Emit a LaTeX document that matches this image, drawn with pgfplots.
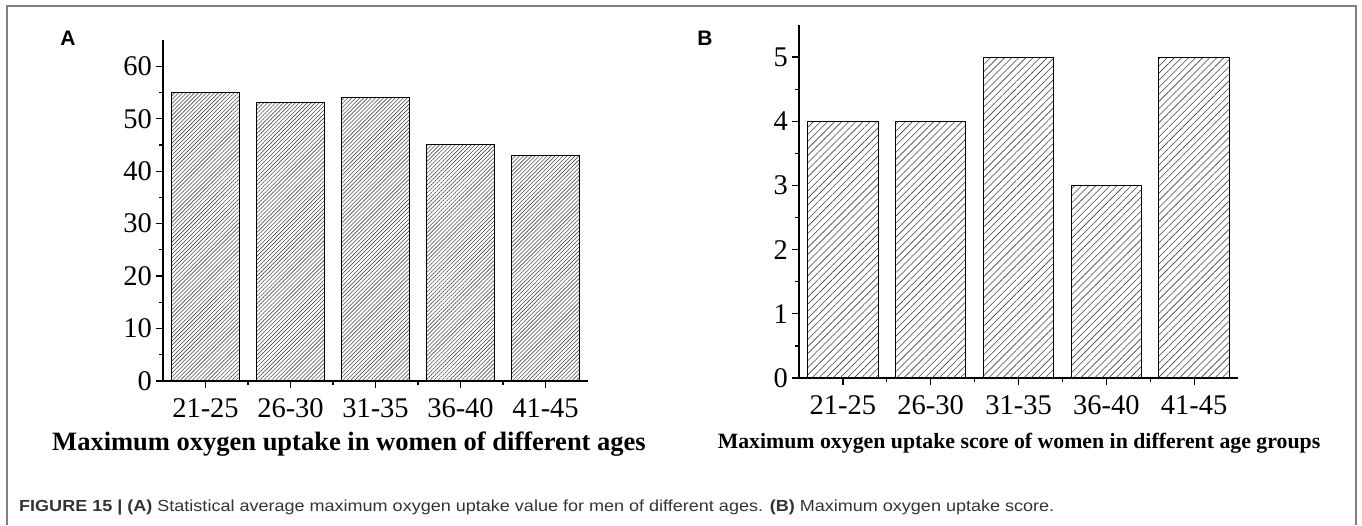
\documentclass[border=0pt]{standalone}
\usepackage{fontspec}
\setmainfont{Liberation Serif}
\newfontfamily\sansf{Liberation Sans}
\usepackage{pgfplots}
\usepackage{pgfplotstable}
\pgfplotsset{compat=1.18}
\usetikzlibrary{patterns.meta}

\pgfplotstableread{
x y
0 55
1 53
2 54
3 45
4 43
}\dataA
\pgfplotstableread{
x y
0 4
1 4
2 5
3 3
4 5
}\dataB

\pgfplotsset{
  mybar/.style={
    scale only axis,
    axis lines=left,
    axis line style={-, line width=1.3pt},
    tick align=outside,
    xmin=-0.5, xmax=4.5, ymin=0,
    xtick={0,1,2,3,4},
    xticklabels={21-25,26-30,31-35,36-40,41-45},
    minor x tick num=1,
    minor y tick num=1,
    major tick length=7pt,
    minor tick length=4pt,
    every tick/.style={black, line width=1.2pt},
    tick label style={font=\fontsize{28.5}{30}\selectfont, inner sep=0pt},
    xticklabel style={yshift=-10pt},
    yticklabel style={xshift=-4pt},
    /pgf/number format/assume math mode=true,
    clip=false,
  }
}

\begin{document}
\begin{tikzpicture}[x=1pt,y=1pt]
\path[use as bounding box] (0,0) rectangle (1362,525);
% frame
\draw[black!50, line width=1.6pt] (7,0) -- (7,519) -- (1356,519) -- (1356,0);

% panel labels
\node[font=\sansf\bfseries\fontsize{21}{23}\selectfont] at (68,487) {A};
\node[font=\sansf\bfseries\fontsize{21}{23}\selectfont] at (705,487) {B};

\begin{axis}[mybar,
  at={(163pt,144pt)}, anchor=south west,
  width=425pt, height=341pt,
  ymax=65, ytick={0,10,20,30,40,50,60}]
\addplot[ybar, bar width=0.81, draw=black, line width=1pt,
  pattern={Lines[angle=45,distance=2.8pt,line width=0.6pt]}, pattern color=black!70]
  table[x=x,y=y] {\dataA};
\end{axis}

\begin{axis}[mybar,
  at={(799pt,147pt)}, anchor=south west,
  width=439pt, height=353pt,
  ymax=5.5, ytick={0,1,2,3,4,5}]
\addplot[ybar, bar width=0.8, draw=black, line width=1pt,
  pattern={Lines[angle=45,distance=5pt,line width=0.6pt]}, pattern color=black!75]
  table[x=x,y=y] {\dataB};
\end{axis}

% subplot titles
\node[anchor=base, font=\bfseries\fontsize{26.5}{28}\selectfont] at (349,75)
  {Maximum oxygen uptake in women of different ages};
\node[anchor=base, font=\bfseries\fontsize{21.8}{24}\selectfont] at (1019,77)
  {Maximum oxygen uptake score of women in different age groups};

% caption
\node[anchor=base west, inner sep=0pt, text=black!80, font=\sansf\fontsize{16}{18}\selectfont] at (19,14)
  {\resizebox{1035pt}{\height}{\textbf{FIGURE 15 | (A)} Statistical average maximum oxygen uptake value for men of different ages. \textbf{(B)} Maximum oxygen uptake score.}};
\end{tikzpicture}
\end{document}
